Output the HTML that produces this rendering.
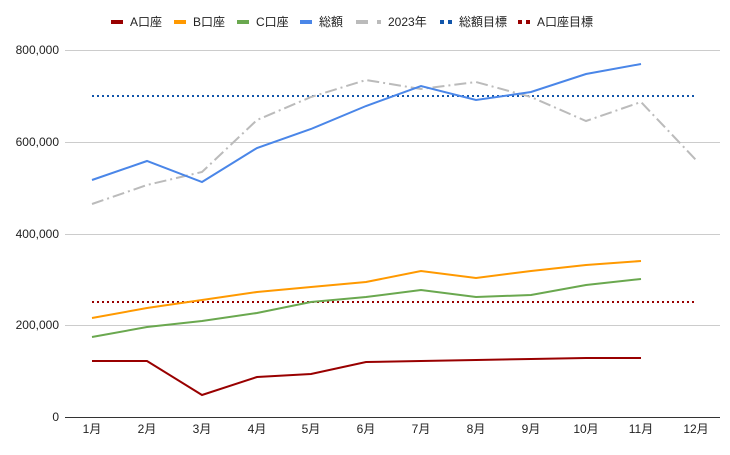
<!DOCTYPE html>
<html><head><meta charset="utf-8"><style>
body{margin:0;background:#fff}
text{font-family:"Liberation Sans","Noto Sans CJK JP",sans-serif;font-size:12px;fill:#222}
</style></head><body>
<svg width="730" height="450" xmlns="http://www.w3.org/2000/svg">
<rect width="730" height="450" fill="#fff"/>
<g stroke="#ccc" stroke-width="1">
<line x1="65" x2="720" y1="50.5" y2="50.5"/><line x1="65" x2="720" y1="142.5" y2="142.5"/>
<line x1="65" x2="720" y1="234.5" y2="234.5"/><line x1="65" x2="720" y1="325.5" y2="325.5"/>
</g>
<line x1="65" x2="720" y1="417.5" y2="417.5" stroke="#333"/>
<g text-anchor="end">
<text x="59" y="54">800,000</text><text x="59" y="146">600,000</text><text x="59" y="238">400,000</text><text x="59" y="329">200,000</text><text x="59" y="421">0</text>
</g>
<g text-anchor="middle">
<text x="92" y="433">1月</text><text x="147" y="433">2月</text><text x="202" y="433">3月</text><text x="257" y="433">4月</text><text x="311" y="433">5月</text><text x="366" y="433">6月</text><text x="421" y="433">7月</text><text x="476" y="433">8月</text><text x="531" y="433">9月</text><text x="586" y="433">10月</text><text x="641" y="433">11月</text><text x="696" y="433">12月</text>
</g>
<line x1="92" x2="696" y1="96" y2="96" stroke="#1155aa" stroke-width="2" stroke-dasharray="2,3"/>
<line x1="92" x2="696" y1="302" y2="302" stroke="#990000" stroke-width="2" stroke-dasharray="2,3"/>
<polyline fill="none" stroke="#bbb" stroke-width="2" stroke-dasharray="12,4,2,4" points="92,204 147,185 202,172 257,120 311,97 366,80 421,89 476,82 531,97 586,121 641,102 696,160"/>
<polyline fill="none" stroke="#4a86e8" stroke-width="2" points="92,180 147,161 202,182 257,148 311,129 366,106 421,86 476,100 531,92 586,74 641,64"/>
<polyline fill="none" stroke="#ff9900" stroke-width="2" points="92,318 147,308 202,300 257,292 311,287 366,282 421,271 476,278 531,271 586,265 641,261"/>
<polyline fill="none" stroke="#6aa84f" stroke-width="2" points="92,337 147,327 202,321 257,313 311,302 366,297 421,290 476,297 531,295 586,285 641,279"/>
<polyline fill="none" stroke="#990000" stroke-width="2" points="92,361 147,361 202,395 257,377 311,374 366,362 421,361 476,360 531,359 586,358 641,358"/>
<g>
<rect x="111" y="20" width="12" height="4" fill="#990000"/><text x="130" y="26">A口座</text>
<rect x="174" y="20" width="12" height="4" fill="#ff9900"/><text x="193" y="26">B口座</text>
<rect x="237" y="20" width="12" height="4" fill="#6aa84f"/><text x="256" y="26">C口座</text>
<rect x="300" y="20" width="12" height="4" fill="#4a86e8"/><text x="319" y="26">総額</text>
<rect x="356" y="20" width="12" height="4" fill="#bbb"/><rect x="377" y="20" width="4" height="4" fill="#bbb"/><text x="388" y="26">2023年</text>
<rect x="440" y="20" width="4" height="4" fill="#1155aa"/><rect x="448" y="20" width="4" height="4" fill="#1155aa"/><text x="459" y="26">総額目標</text>
<rect x="518" y="20" width="4" height="4" fill="#990000"/><rect x="526" y="20" width="4" height="4" fill="#990000"/><text x="537" y="26">A口座目標</text>
</g>
</svg>
</body></html>
